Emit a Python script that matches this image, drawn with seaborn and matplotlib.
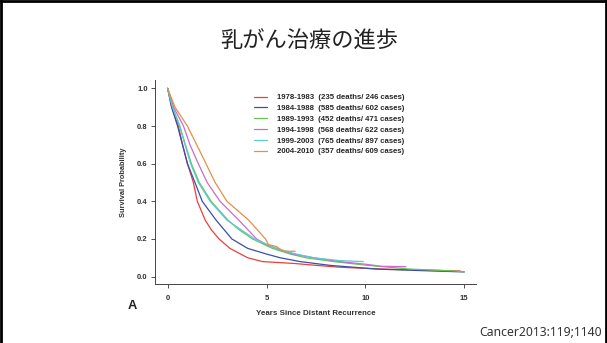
import pandas as pd
import seaborn as sns
import matplotlib.pyplot as plt
from matplotlib.lines import Line2D

# Kaplan-Meier curves (years, survival probability)
labels = [
    "1978-1983  (235 deaths/ 246 cases)",
    "1984-1988  (585 deaths/ 602 cases)",
    "1989-1993  (452 deaths/ 471 cases)",
    "1994-1998  (568 deaths/ 622 cases)",
    "1999-2003  (765 deaths/ 897 cases)",
    "2004-2010  (357 deaths/ 609 cases)",
]
colors = ["#e8413c", "#3a4ea8", "#66c455", "#c86ccc", "#5cc8d8", "#e0904a"]

t_7883 = [0, 0.2, 0.54, 0.76, 1.0, 1.3, 1.5, 1.9, 2.2, 2.6, 3.15, 4.05, 4.8, 6.4, 7.5, 8.7, 10.9, 13.0, 14.8]
s_7883 = [1.0, 0.9, 0.8, 0.7, 0.6, 0.5, 0.4, 0.3, 0.25, 0.2, 0.15, 0.1, 0.08, 0.07, 0.06, 0.05, 0.04, 0.035, 0.03]

t_8488 = [0, 0.2, 0.5, 0.75, 1.0, 1.38, 1.75, 2.45, 3.25, 4.05, 5.0, 5.7, 6.7, 8.2, 9.4, 10.6, 13.4, 15.0]
s_8488 = [1.0, 0.9, 0.8, 0.7, 0.6, 0.5, 0.4, 0.3, 0.2, 0.15, 0.12, 0.1, 0.08, 0.06, 0.05, 0.04, 0.03, 0.025]

t_8993 = [0, 0.25, 0.6, 0.9, 1.2, 1.6, 2.2, 3.05, 3.6, 4.3, 5.3, 6.2, 7.0, 8.4, 10.1, 12.3, 14.5, 15.0]
s_8993 = [1.0, 0.9, 0.8, 0.7, 0.6, 0.5, 0.4, 0.3, 0.25, 0.2, 0.15, 0.12, 0.1, 0.08, 0.06, 0.04, 0.03, 0.025]

t_9498 = [0, 0.3, 0.8, 1.13, 1.55, 2.0, 2.65, 3.6, 4.5, 5.0, 5.5, 6.35, 7.4, 8.7, 10.1, 10.8, 12.05]
s_9498 = [1.0, 0.9, 0.8, 0.7, 0.6, 0.5, 0.4, 0.3, 0.2, 0.17, 0.15, 0.12, 0.1, 0.08, 0.065, 0.055, 0.053]

t_9903 = [0, 0.25, 0.62, 0.88, 1.16, 1.55, 2.15, 3.0, 4.4, 5.5, 6.5, 7.4, 8.7, 9.9]
s_9903 = [1.0, 0.9, 0.8, 0.7, 0.6, 0.5, 0.4, 0.3, 0.2, 0.15, 0.12, 0.1, 0.085, 0.08]

t_0410 = [0, 0.37, 1.0, 1.47, 1.94, 2.4, 3.0, 4.1, 4.95, 5.1, 5.5, 5.85, 6.45]
s_0410 = [1.0, 0.9, 0.8, 0.7, 0.6, 0.5, 0.4, 0.3, 0.2, 0.17, 0.16, 0.135, 0.135]

times = [t_7883, t_8488, t_8993, t_9498, t_9903, t_0410]
surv = [s_7883, s_8488, s_8993, s_9498, s_9903, s_0410]

rows = []
for lab, tt, ss in zip(labels, times, surv):
    for a, b in zip(tt, ss):
        rows.append({"years": a, "surv": b, "group": lab})
df = pd.DataFrame(rows)

sns.set_style("ticks")
plt.rcParams["font.family"] = ["Liberation Sans", "DejaVu Sans"]

fig = plt.figure(figsize=(6.07, 3.43), dpi=100)
ax = fig.add_axes([0.256, 0.1726, 0.529, 0.594])

sns.lineplot(data=df, x="years", y="surv", hue="group", hue_order=labels,
             palette=colors, errorbar=None, linewidth=0.9, legend=False, ax=ax)

ax.set_xlim(-0.62, 15.62)
ax.set_ylim(-0.038, 1.044)
ax.set_xticks([0, 5, 10, 15])
ax.set_xticklabels(["0", "5", "10", "15"])
ax.set_yticks([0, 0.2, 0.4, 0.6, 0.8, 1.0])
ax.set_yticklabels(["0.0", "0.2", "0.4", "0.6", "0.8", "1.0"])
ax.tick_params(labelsize=5.5, length=3, width=0.6, pad=2.5, colors="#333333")
ax.tick_params(axis="x", pad=5)
for lbl in ax.get_xticklabels() + ax.get_yticklabels():
    lbl.set_fontweight("bold")
for sp in ["left", "bottom"]:
    ax.spines[sp].set_linewidth(0.7)
    ax.spines[sp].set_color("#444444")
sns.despine(ax=ax)

ax.set_xlabel("Years Since Distant Recurrence", fontsize=5.7, fontweight="bold",
              color="#333333", labelpad=6)
ax.set_ylabel("Survival Probability", fontsize=5.3, fontweight="bold",
              color="#333333", labelpad=7)

handles = [Line2D([0], [0], color=c, lw=0.9) for c in colors]
fig.legend(handles, labels, loc="upper left", bbox_to_anchor=(0.4185, 0.726),
           frameon=False, handlelength=1.7, handletextpad=1.2,
           labelspacing=0.43, borderpad=0, borderaxespad=0,
           prop={"size": 5.6, "weight": "bold"})

fig.text(0.51, 1 - 41 / 343, "乳がん治療の進歩", ha="center", va="center",
         fontsize=16, family=["Noto Sans CJK JP", "DejaVu Sans"], color="#222222")
fig.text(132 / 607, 1 - 306 / 343, "A", ha="center", va="center",
         fontsize=9.3, fontweight="bold", color="#222222")
fig.text(602 / 607, 1 - 332 / 343, "Cancer2013:119;1140", ha="right", va="center",
         fontsize=8.8, family=["Noto Sans", "DejaVu Sans"], color="#333333")

# slide border (top, left, right)
for xs, ys in [([0, 1], [0.997, 0.997]), ([0.002, 0.002], [0, 1]), ([0.998, 0.998], [0, 1])]:
    fig.add_artist(Line2D(xs, ys, color="black", lw=2, transform=fig.transFigure))

fig.savefig("out.png", dpi=100)
